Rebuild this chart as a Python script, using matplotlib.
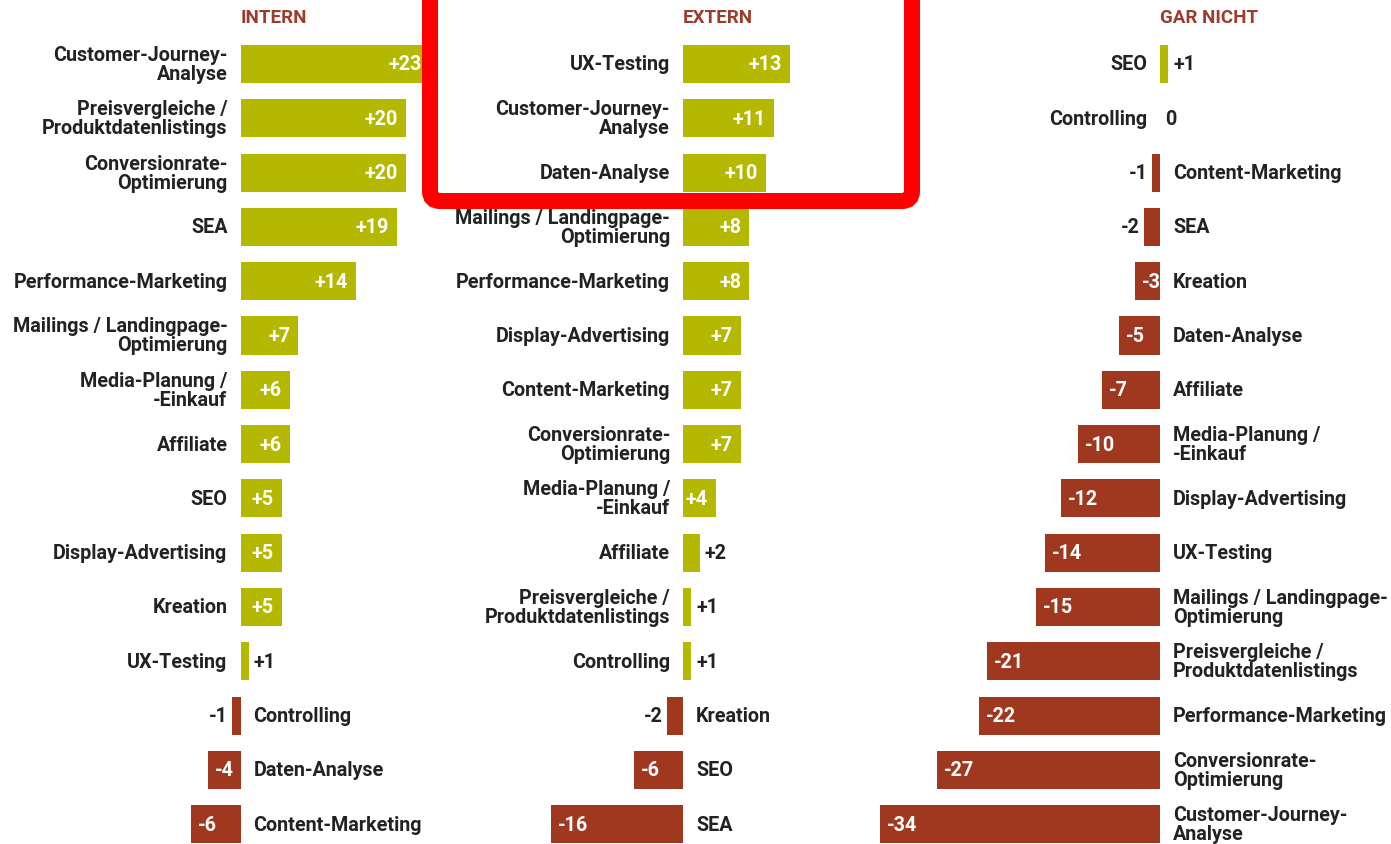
import matplotlib
matplotlib.use("Agg")
import matplotlib.pyplot as plt
from matplotlib.patches import FancyBboxPatch

# ---------------- data ----------------
intern_title = "INTERN"
intern_cats = ["Customer-Journey-\nAnalyse", "Preisvergleiche /\nProduktdatenlistings",
               "Conversionrate-\nOptimierung", "SEA", "Performance-Marketing",
               "Mailings / Landingpage-\nOptimierung", "Media-Planung /\n-Einkauf",
               "Affiliate", "SEO", "Display-Advertising", "Kreation", "UX-Testing",
               "Controlling", "Daten-Analyse", "Content-Marketing"]
intern_vals = [23, 20, 20, 19, 14, 7, 6, 6, 5, 5, 5, 1, -1, -4, -6]

extern_title = "EXTERN"
extern_cats = ["UX-Testing", "Customer-Journey-\nAnalyse", "Daten-Analyse",
               "Mailings / Landingpage-\nOptimierung", "Performance-Marketing",
               "Display-Advertising", "Content-Marketing", "Conversionrate-\nOptimierung",
               "Media-Planung /\n-Einkauf", "Affiliate",
               "Preisvergleiche /\nProduktdatenlistings", "Controlling", "Kreation",
               "SEO", "SEA"]
extern_vals = [13, 11, 10, 8, 8, 7, 7, 7, 4, 2, 1, 1, -2, -6, -16]

gar_title = "GAR NICHT"
gar_cats = ["SEO", "Controlling", "Content-Marketing", "SEA", "Kreation", "Daten-Analyse",
            "Affiliate", "Media-Planung /\n-Einkauf", "Display-Advertising", "UX-Testing",
            "Mailings / Landingpage-\nOptimierung", "Preisvergleiche /\nProduktdatenlistings",
            "Performance-Marketing", "Conversionrate-\nOptimierung",
            "Customer-Journey-\nAnalyse"]
gar_vals = [1, 0, -1, -2, -3, -5, -7, -10, -12, -14, -15, -21, -22, -27, -34]

# ---------------- style ----------------
GREEN = "#b4b800"
RED = "#a0381f"
TITLE_C = "#9b3d2c"
TEXT_C = "#222222"
FONT = "Roboto"
FS = 14.2
FS_TITLE = 13.5

W, H = 1391, 845
fig = plt.figure(figsize=(W / 100, H / 100), dpi=100)
fig.patch.set_facecolor("white")

PX = 8.25        # pixels per value unit
ROW0 = 65        # pixel y of first row centre
STEP = 54.3      # pixel distance between rows
PT = 0.72        # points per pixel


def panel(zero_px, title, cats, vals):
    ax = fig.add_axes([0, 0, 1, 1])
    ax.set_xlim(-zero_px / PX, (W - zero_px) / PX)
    ax.set_ylim((H - ROW0) / STEP, -ROW0 / STEP)
    ax.axis("off")
    ax.patch.set_alpha(0)
    ys = list(range(len(vals)))
    colors = [GREEN if v >= 0 else RED for v in vals]
    ax.barh(ys, vals, height=0.70, color=colors, linewidth=0, zorder=2)
    ax.text(0, (18 - ROW0) / STEP, title, color=TITLE_C, fontsize=FS_TITLE,
            fontweight="bold", family=FONT, ha="left", va="center")
    for y, v, c in zip(ys, vals, cats):
        if v >= 0:
            ax.annotate(c, (0, y), xytext=(-13 * PT, 0), textcoords="offset points",
                        ha="right", va="center", multialignment="right",
                        fontsize=FS, fontweight="bold", family=FONT, color=TEXT_C,
                        linespacing=1.0)
            lab = "0" if v == 0 else f"+{v}"
            if v >= 3:
                ax.annotate(lab, (v, y), xytext=(-8 * PT, 0), textcoords="offset points",
                            ha="right", va="center", fontsize=FS, fontweight="bold",
                            family=FONT, color="white", zorder=3)
            else:
                ax.annotate(lab, (v, y), xytext=(5 * PT, 0), textcoords="offset points",
                            ha="left", va="center", fontsize=FS, fontweight="bold",
                            family=FONT, color=TEXT_C, zorder=3)
        else:
            ax.annotate(c, (0, y), xytext=(13 * PT, 0), textcoords="offset points",
                        ha="left", va="center", multialignment="left",
                        fontsize=FS, fontweight="bold", family=FONT, color=TEXT_C,
                        linespacing=1.0)
            lab = f"-{abs(v)}"
            if v <= -3:
                ax.annotate(lab, (v, y), xytext=(7 * PT, 0), textcoords="offset points",
                            ha="left", va="center", fontsize=FS, fontweight="bold",
                            family=FONT, color="white", zorder=3)
            else:
                ax.annotate(lab, (v, y), xytext=(-4 * PT, 0), textcoords="offset points",
                            ha="right", va="center", fontsize=FS, fontweight="bold",
                            family=FONT, color=TEXT_C, zorder=3)
    return ax


panel(240.5, intern_title, intern_cats, intern_vals)
panel(683, extern_title, extern_cats, extern_vals)
panel(1160, gar_title, gar_cats, gar_vals)

# highlight frame (overlay in pixel coordinates)
ov = fig.add_axes([0, 0, 1, 1])
ov.set_xlim(0, W)
ov.set_ylim(H, 0)
ov.axis("off")
ov.patch.set_alpha(0)
ov.add_patch(FancyBboxPatch((430, -40), 482, 242,
                            boxstyle="round,pad=0,rounding_size=10",
                            fill=False, edgecolor="#ff0000", linewidth=16 * PT,
                            zorder=10))

fig.savefig("out.png", dpi=100, facecolor="white")
